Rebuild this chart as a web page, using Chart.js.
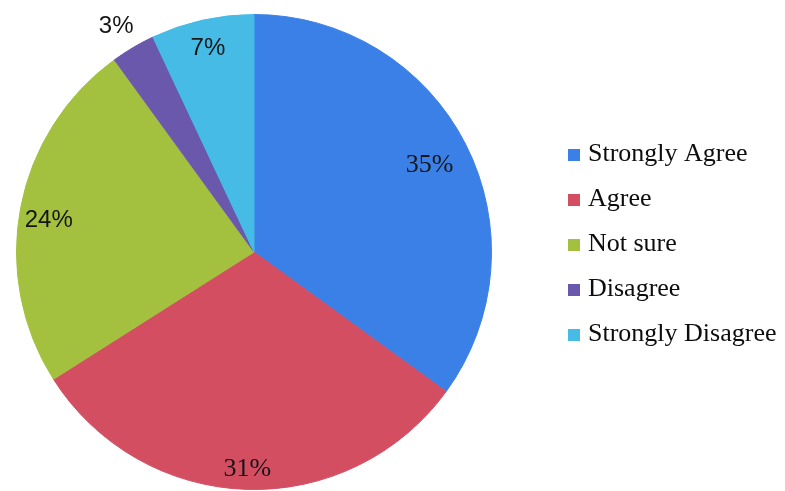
<!DOCTYPE html>
<html>
<head>
<meta charset="utf-8">
<script src="https://cdn.jsdelivr.net/npm/chart.js@4/dist/chart.umd.min.js"></script>
<style>
html,body{margin:0;padding:0;background:#fff;}
#wrap{position:relative;width:785px;height:491px;}
</style>
</head>
<body>
<div id="wrap"><canvas id="c" width="785" height="491"></canvas></div>
<script>
const categories = ["Strongly Agree", "Agree", "Not sure", "Disagree", "Strongly Disagree"];
const percentValues = [35, 31, 24, 3, 7];
const valueLabels = ["35%", "31%", "24%", "3%", "7%"];
const sliceColors = ["#3a80e6", "#d44e62", "#a3c13f", "#6a58ad", "#45bbe6"];

const labelRadius = [0.83, 0.905, 0.88, 1.14, 0.89];
const labelShiftY = [3, 2, 8, 7, 3];
const labelFonts = [
  "26px 'Liberation Serif'", "26px 'Liberation Serif'",
  "24px 'Liberation Sans'", "24px 'Liberation Sans'", "24px 'Liberation Sans'"
];

const sliceLabels = {
  id: 'sliceLabels',
  afterDatasetsDraw(chart) {
    const ctx = chart.ctx;
    const meta = chart.getDatasetMeta(0);
    ctx.save();
    ctx.fillStyle = '#151515';
    ctx.textAlign = 'center';
    ctx.textBaseline = 'middle';
    meta.data.forEach((arc, i) => {
      const p = arc.getProps(['x','y','startAngle','endAngle','outerRadius'], true);
      const mid = (p.startAngle + p.endAngle) / 2;
      const r = p.outerRadius * labelRadius[i];
      ctx.font = labelFonts[i];
      ctx.fillText(valueLabels[i], p.x + Math.cos(mid) * r, p.y + Math.sin(mid) * r + labelShiftY[i]);
    });
    ctx.restore();
  }
};

const sideLegend = {
  id: 'sideLegend',
  afterDraw(chart) {
    const ctx = chart.ctx;
    ctx.save();
    ctx.font = "26px 'Liberation Serif'";
    ctx.textBaseline = 'middle';
    ctx.textAlign = 'left';
    const x0 = 568, y0 = 154, step = 45;
    chart.data.labels.forEach((lab, i) => {
      const y = y0 + i * step;
      ctx.fillStyle = chart.data.datasets[0].backgroundColor[i];
      ctx.fillRect(x0, y - 5, 12, 12);
      ctx.fillStyle = '#0d0d0d';
      ctx.fillText(lab, x0 + 20, y);
    });
    ctx.restore();
  }
};

new Chart(document.getElementById('c'), {
  type: 'pie',
  data: {
    labels: categories,
    datasets: [{
      data: percentValues,
      backgroundColor: sliceColors,
      borderColor: sliceColors,
      borderWidth: 1
    }]
  },
  options: {
    responsive: false,
    animation: false,
    layout: { padding: { left: 16, right: 293, top: 14, bottom: 1 } },
    plugins: {
      legend: { display: false },
      tooltip: { enabled: false }
    }
  },
  plugins: [sliceLabels, sideLegend]
});
</script>
</body>
</html>
